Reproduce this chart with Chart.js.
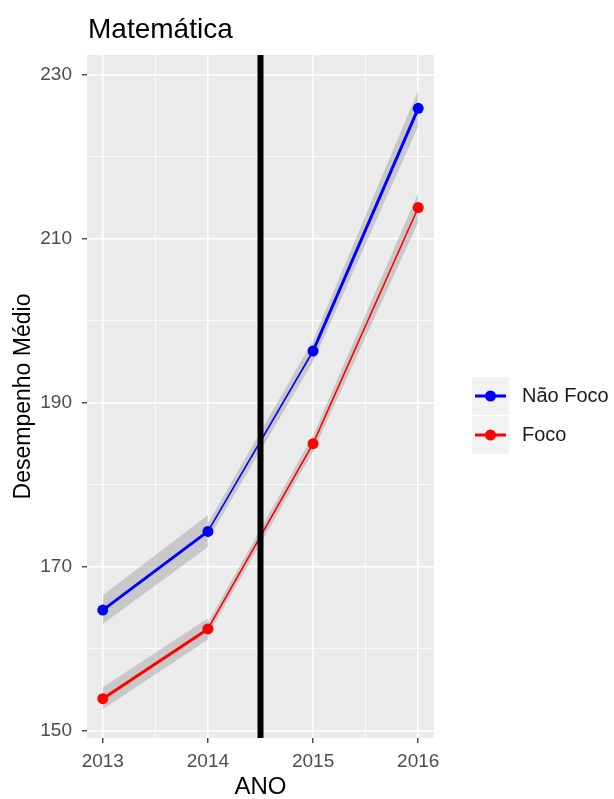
<!DOCTYPE html>
<html lang="pt">
<head>
    <meta charset="UTF-8">
    <title>Matemática</title>
    <script src="https://cdn.jsdelivr.net/npm/chart.js"></script>
    <style>
        html, body { margin: 0; padding: 0; background: #fff; }
    </style>
</head>
<body>
    <canvas id="chart" width="614" height="799"></canvas>

    <script type=text/javascript>
        // values
        var anos = [2013, 2014, 2015, 2016];
        var naoFoco = [164.7, 174.3, 196.3, 225.9];
        var foco = [153.9, 162.4, 185.0, 213.8];

        // confidence bands: before (2013-2014) and after (2014-2016)
        var anosPre = [2013, 2014];
        var anosPos = [2014, 2015, 2016];
        var naoFocoPreSup = [166.5, 176.3];
        var naoFocoPreInf = [163.0, 172.4];
        var naoFocoPosSup = [175.3, 197.6, 228.1];
        var naoFocoPosInf = [173.3, 195.0, 223.7];
        var focoPreSup = [155.3, 163.7];
        var focoPreInf = [152.6, 161.1];
        var focoPosSup = [163.2, 186.0, 215.6];
        var focoPosInf = [161.6, 184.0, 212.0];

        var corte = 2014.5;
        var yTicks = [150, 170, 190, 210, 230];
        var xTicks = [2013, 2014, 2015, 2016];
        var seriesNames = ['Não Foco', 'Foco'];

        // styles
        var FONT = "'Liberation Sans', Arial, sans-serif";
        var blue = '#0000FF', red = '#FF0000';
        var band = 'rgba(153,153,153,0.42)';
        var widthNaoFoco = [3, 1.6, 3];
        var widthFoco = [3, 1.6, 1.6];
        var yMin = 149.1, yMax = 232.4;
        var xMin = 2012.85, xMax = 2016.15;

        // major + minor grid positions
        var yGrid = [];
        yTicks.forEach(function (v, i) {
            yGrid.push(v);
            if (i < yTicks.length - 1) yGrid.push((v + yTicks[i + 1]) / 2);
        });
        var xGrid = [];
        xTicks.forEach(function (v, i) {
            xGrid.push(v);
            if (i < xTicks.length - 1) xGrid.push((v + xTicks[i + 1]) / 2);
        });

        function pts(xs, ys) {
            return xs.map(function (x, i) { return {x: x, y: ys[i]}; });
        }

        function ribbon(xs, sup, inf) {
            return [
                {data: pts(xs, sup), borderWidth: 0, pointRadius: 0, fill: false, order: 3},
                {data: pts(xs, inf), borderWidth: 0, pointRadius: 0, fill: '-1', backgroundColor: band, order: 3}
            ];
        }

        function serie(ys, color, widths) {
            return {
                data: pts(anos, ys),
                borderColor: color,
                backgroundColor: color,
                pointBackgroundColor: color,
                pointBorderWidth: 0,
                pointRadius: 5.5,
                fill: false,
                order: 1,
                segment: {
                    borderWidth: function (ctx) { return widths[ctx.p0DataIndex]; }
                }
            };
        }

        var datasets = []
            .concat(ribbon(anosPre, naoFocoPreSup, naoFocoPreInf))
            .concat(ribbon(anosPos, naoFocoPosSup, naoFocoPosInf))
            .concat(ribbon(anosPre, focoPreSup, focoPreInf))
            .concat(ribbon(anosPos, focoPosSup, focoPosInf));
        datasets.push(serie(naoFoco, blue, widthNaoFoco));
        datasets.push(serie(foco, red, widthFoco));
        datasets.push({
            data: [{x: corte, y: yMin}, {x: corte, y: yMax}],
            borderColor: '#000',
            borderWidth: 6,
            borderCapStyle: 'butt',
            pointRadius: 0,
            fill: false,
            order: 0
        });

        // grey panel, title and legend drawn around the chart
        var decor = {
            id: 'decor',
            beforeDraw: function (chart) {
                var a = chart.chartArea, c = chart.ctx;
                c.save();
                c.fillStyle = '#EBEBEB';
                c.fillRect(a.left, a.top, a.right - a.left, a.bottom - a.top);
                c.restore();
            },
            afterDraw: function (chart) {
                var c = chart.ctx;
                c.save();
                c.fillStyle = '#000';
                c.font = '28px ' + FONT;
                c.textBaseline = 'alphabetic';
                c.textAlign = 'left';
                c.fillText('Matemática', 88, 38);

                var colors = [blue, red];
                seriesNames.forEach(function (name, i) {
                    var top = 377 + i * 39;
                    c.fillStyle = '#F2F2F2';
                    c.fillRect(472, top, 37, 38);
                    var cy = top + 19;
                    c.strokeStyle = colors[i];
                    c.lineWidth = 3;
                    c.beginPath();
                    c.moveTo(475, cy);
                    c.lineTo(506, cy);
                    c.stroke();
                    c.fillStyle = colors[i];
                    c.beginPath();
                    c.arc(490.5, cy, 5.5, 0, Math.PI * 2);
                    c.fill();
                    c.fillStyle = '#1a1a1a';
                    c.font = '20px ' + FONT;
                    c.textBaseline = 'middle';
                    c.fillText(name, 522, cy);
                });
                c.restore();
            }
        };

        var chart = new Chart(document.getElementById('chart').getContext('2d'), {
            type: 'line',
            data: {datasets: datasets},
            options: {
                responsive: false,
                animation: false,
                devicePixelRatio: 1,
                layout: {padding: {top: 55, right: 180, bottom: 0, left: 0}},
                elements: {line: {tension: 0}},
                plugins: {legend: {display: false}, tooltip: {enabled: false}},
                scales: {
                    x: {
                        type: 'linear',
                        min: xMin,
                        max: xMax,
                        afterBuildTicks: function (s) {
                            s.ticks = xGrid.map(function (v) { return {value: v}; });
                        },
                        afterFit: function (s) { s.height = 61; },
                        border: {display: false},
                        grid: {
                            color: '#FFFFFF',
                            lineWidth: function (ctx) { return xTicks.indexOf(ctx.tick.value) >= 0 ? 1.5 : 0.8; },
                            tickLength: 5,
                            tickWidth: 1.3,
                            tickColor: function (ctx) { return xTicks.indexOf(ctx.tick.value) >= 0 ? '#333333' : 'rgba(0,0,0,0)'; }
                        },
                        ticks: {
                            autoSkip: false,
                            maxRotation: 0,
                            padding: 7,
                            color: '#4D4D4D',
                            font: {size: 19, family: FONT},
                            callback: function (v) { return xTicks.indexOf(v) >= 0 ? String(v) : ''; }
                        },
                        title: {
                            display: true,
                            text: 'ANO',
                            color: '#000',
                            font: {size: 24, family: FONT, lineHeight: 1.0},
                            padding: 0
                        }
                    },
                    y: {
                        min: yMin,
                        max: yMax,
                        afterBuildTicks: function (s) {
                            s.ticks = yGrid.map(function (v) { return {value: v}; });
                        },
                        afterFit: function (s) { s.width = 87; },
                        border: {display: false},
                        grid: {
                            color: '#FFFFFF',
                            lineWidth: function (ctx) { return yTicks.indexOf(ctx.tick.value) >= 0 ? 1.5 : 0.8; },
                            tickLength: 5,
                            tickWidth: 1.3,
                            tickColor: function (ctx) { return yTicks.indexOf(ctx.tick.value) >= 0 ? '#333333' : 'rgba(0,0,0,0)'; }
                        },
                        ticks: {
                            autoSkip: false,
                            padding: 10,
                            color: '#4D4D4D',
                            font: {size: 19, family: FONT},
                            callback: function (v) { return yTicks.indexOf(v) >= 0 ? String(v) : ''; }
                        },
                        title: {
                            display: true,
                            text: 'Desempenho Médio',
                            color: '#000',
                            font: {size: 23, family: FONT},
                            padding: {top: 10, bottom: 0}
                        }
                    }
                }
            },
            plugins: [decor]
        });
    </script>
</body>
</html>
